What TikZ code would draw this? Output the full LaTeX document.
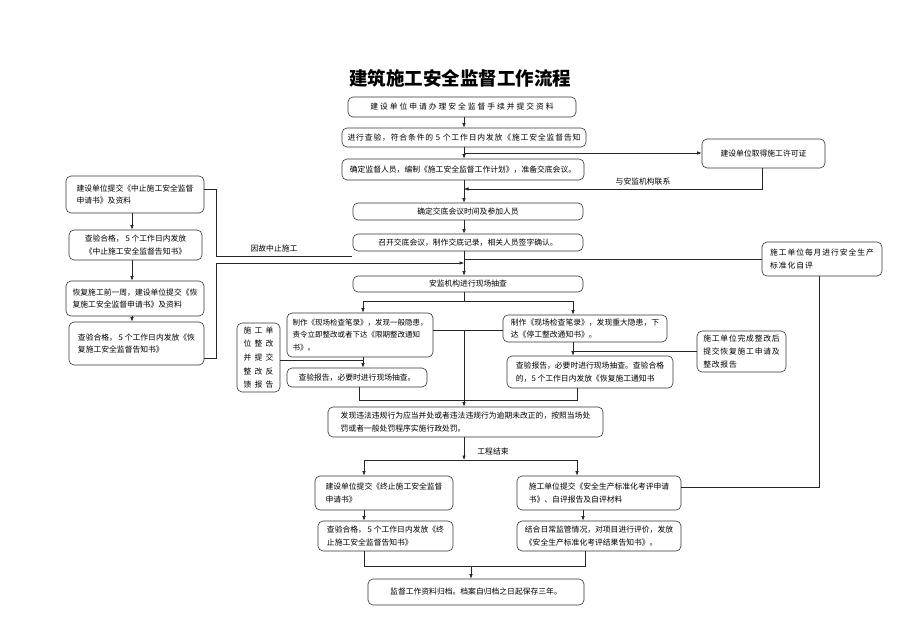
\documentclass[tikz,border=0pt]{standalone}
\usepackage{fontspec}
\setmainfont{Noto Sans CJK SC}
\usetikzlibrary{arrows.meta}
\newcommand\spread[1]{\addfontfeature{LetterSpace=#1}}

\begin{document}
\begin{tikzpicture}[x=1pt,y=-1pt,
  proc/.style={draw=black!80, line width=0.6pt, rounded corners=5pt, inner sep=0pt, align=left,
    font=\fontsize{7.8pt}{12.7pt}\selectfont},
  link/.style={draw=black!85, line width=0.6pt},
  tip/.style={link, -{Latex[length=4.5pt,width=3.5pt]}},
  note/.style={font=\fontsize{7.8pt}{10pt}\selectfont}]
\useasboundingbox (0,0) rectangle (920,636);

% arrow columns
\coordinate (col) at (464,0);
\coordinate (lcol) at (363,0);
\coordinate (rcol) at (573,0);
\coordinate (jcl) at (364,0);
\coordinate (jcr) at (577,0);

\node[font=\fontsize{18.5pt}{20pt}\selectfont\bfseries] (title) at (460,78) {建筑施工安全监督工作流程};

% main column
\node[proc, minimum width=228, minimum height=20, font=\fontsize{7.8pt}{12.7pt}\selectfont\spread{25}] (apply) at (462,107) {建设单位申请办理安全监督手续并提交资料};
\node[proc, minimum width=244, minimum height=19, font=\fontsize{7.8pt}{12.7pt}\selectfont\spread{11}] (check) at (464,137.5) {进行查验，符合条件的 5 个工作日内发放《施工安全监督告知};
\node[proc, minimum width=242, minimum height=21] (plan) at (463,169.5) {确定监督人员，编制《施工安全监督工作计划》，准备交底会议。};
\node[proc, minimum width=123, minimum height=29] (permit) at (763.5,153.5) {建设单位取得施工许可证};
\node[proc, minimum width=230, minimum height=17] (meet) at (468,211.5) {确定交底会议时间及参加人员};
\node[proc, minimum width=230, minimum height=17] (record) at (468,242.5) {召开交底会议，制作交底记录，相关人员签字确认。};
\node[proc, minimum width=230, minimum height=16] (spot) at (468,284) {安监机构进行现场抽查};

% left column
\node[proc, minimum width=138, minimum height=37] (stopreq) at (135,194.5) {建设单位提交《中止施工安全监督\\申请书》及资料};
\node[proc, minimum width=133, minimum height=30] (stopok) at (135.5,245) {查验合格，~5 个工作日内发放\\《中止施工安全监督告知书》};
\node[proc, minimum width=138, minimum height=35] (resreq) at (135,298.5) {恢复施工前一周，建设单位提交《恢\\复施工安全监督申请书》及资料};
\node[proc, minimum width=135, minimum height=43] (resok) at (136.5,343.5) {查验合格，~5 个工作日内发放《恢\\复施工安全监督告知书》};

% right side
\node[proc, minimum width=120, minimum height=34, font=\fontsize{7.8pt}{12.7pt}\selectfont\spread{12}] (selfeval) at (822,259) {施工单位每月进行安全生产\\标准化自评};

% inspection
\node[proc, font=\fontsize{7.5pt}{12.7pt}\selectfont, minimum width=146, minimum height=44] (minor) at (360,335) {制作《现场检查笔录》，发现一般隐患，\\责令立即整改或者下达《限期整改通知\\书》。};
\node[proc, minimum width=164, minimum height=27] (major) at (585,328.5) {制作《现场检查笔录》，发现重大隐患，下\\达《停工整改通知书》。};
\node[proc, minimum width=43, minimum height=69, font=\fontsize{7.8pt}{13.7pt}\selectfont\spread{40}] (fixrep) at (258.5,357.5) {施工单\\位整改\\并提交\\整改反\\馈报告};
\node[proc, minimum width=140, minimum height=19] (minorchk) at (357,377.5) {查验报告，必要时进行现场抽查。};
\node[proc, minimum width=166, minimum height=32] (majorchk) at (590,372) {查验报告，必要时进行现场抽查。查验合格\\的，5 个工作日内发放《恢复施工通知书};
\node[proc, minimum width=89, minimum height=41, font=\fontsize{7.8pt}{12.7pt}\selectfont\spread{10}] (resume) at (741.5,351.5) {施工单位完成整改后\\提交恢复施工申请及\\整改报告};
\node[proc, minimum width=275, minimum height=30] (penalty) at (465.5,422) {发现违法违规行为应当并处或者违法违规行为逾期未改正的，按照当场处\\罚或者一般处罚程序实施行政处罚。};

% completion
\node[proc, minimum width=138, minimum height=34] (endreq) at (384,493) {建设单位提交《终止施工安全监督\\申请书》};
\node[proc, minimum width=164, minimum height=34] (evalreq) at (599,493) {施工单位提交《安全生产标准化考评申请\\书》、自评报告及自评材料};
\node[proc, minimum width=135, minimum height=30] (endok) at (385.5,536) {查验合格，~5 个工作日内发放《终\\止施工安全监督告知书》};
\node[proc, minimum width=164, minimum height=30] (evalok) at (599,536) {结合日常监管情况，对项目进行评价，发放\\《安全生产标准化考评结果告知书》。};
\node[proc, minimum width=216, minimum height=26] (archive) at (476,592) {监督工作资料归档。档案自归档之日起保存三年。};

% labels
\node[note] (contact) at (643,182) {与安监机构联系};
\node[note] (halt) at (274,249) {因故中止施工};
\node[note] (finish) at (493,452) {工程结束};

% free ends
\coordinate (toP) at (464,153);
\coordinate (fromP) at (464,189);
\coordinate (haltA) at (216,256);
\coordinate (haltB) at (352,256);
\coordinate (resA) at (216,263);
\coordinate (resB) at (464,263);
\coordinate (evalin) at (464,259);
\coordinate (split) at (464,301);
\coordinate (mid) at (464,330);
\coordinate (join) at (464,400);
\coordinate (jl) at (359,400);
\coordinate (jr) at (577,400);
\coordinate (split2) at (464,460);
\coordinate (merge) at (471,566);
\coordinate (ml) at (364,566);
\coordinate (mr) at (585,566);

% main flow
\draw[tip] (apply.south -| col) -- (check.north -| col);
\draw[tip] (check.south -| col) -- (plan.north -| col);
\draw[tip] (toP) -- (toP -| permit.west);
\draw[tip] (permit.south -| 762,0) |- (fromP);
\draw[tip] (plan.south -| col) -- (meet.north -| col);
\draw[tip] (meet.south -| col) -- (record.north -| col);
\draw[tip] (record.south -| col) -- (spot.north -| col);
\draw[link] (selfeval.west |- evalin) -- (evalin);

% suspension loop
\draw[tip] (stopreq.south -| 132,0) -- (stopok.north -| 132,0);
\draw[tip] (stopok.south -| 132,0) -- (resreq.north -| 132,0);
\draw[tip] (resreq.south -| 132,0) -- (resok.north -| 132,0);
\draw[link] ([yshift=5pt]stopreq.east) -| (haltA) -- (haltB);
\draw[tip] ([yshift=-15pt]resok.east) -| (resA) -- (resB);

% inspection
\draw[link] (spot.south -| col) -- (split);
\draw[tip] (split) -| (minor.north -| lcol);
\draw[tip] (split) -| (major.north -| rcol);
\draw[tip] (minor.south -| lcol) -- (minorchk.north -| lcol);
\draw[tip] (major.south -| rcol) -- (majorchk.north -| rcol);
\draw[link] (fixrep.east |- 0,360) -- (lcol |- 0,360);
\draw[link] (resume.west) -- (resume.west -| rcol);
\draw[link] (mid -| minor.east) -- (mid -| major.west);
\draw[link] (mid) -- (join);
\draw[link] (minorchk.south -| jl) -- (jl) -- (jr) -- (majorchk.south -| jr);
\draw[tip] (join) -- (penalty.north -| col);

% completion
\draw[tip] (penalty.south -| col) -- (split2);
\draw[tip] (split2) -| (endreq.north -| jcl);
\draw[tip] (split2) -| (evalreq.north -| jcr);
\draw[tip] (endreq.south -| jcl) -- (endok.north -| jcl);
\draw[tip] (evalreq.south -| 583,0) -- (evalok.north -| 583,0);
\draw[link] (selfeval.south -| 819,0) |- ([yshift=6pt]evalreq.east);
\draw[link] (endok.south -| ml) -- (ml) -- (mr) -- (evalok.south -| mr);
\draw[tip] (merge) -- (archive.north -| merge);
\end{tikzpicture}
\end{document}
